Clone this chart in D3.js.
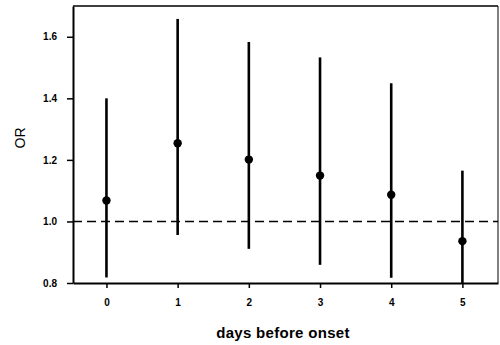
<!DOCTYPE html>
<html>
<head>
<meta charset="utf-8">
<script src="https://cdn.jsdelivr.net/npm/d3@7"></script>
<style>
  body { margin: 0; background: #fff; }
  svg { display: block; font-family: "Liberation Sans", Arial, sans-serif; }
</style>
</head>
<body>
<svg id="chart" width="500" height="345"></svg>
<script>
// days before onset and odds ratios with 95% CI
const days = [0, 1, 2, 3, 4, 5];
const orValues = [1.068, 1.254, 1.201, 1.149, 1.087, 0.936];
const ciLower = [0.818, 0.956, 0.911, 0.859, 0.817, 0.79];
const ciUpper = [1.40, 1.658, 1.583, 1.533, 1.449, 1.165];
const yTicks = [0.8, 1.0, 1.2, 1.4, 1.6];

const margin = { top: 6, right: 2, bottom: 62, left: 73 };
const width = 500, height = 345;
const innerW = width - margin.left - margin.right;
const innerH = height - margin.top - margin.bottom;

const svg = d3.select('#chart');
const g = svg.append('g')
  .attr('transform', `translate(${margin.left},${margin.top})`);

const x = d3.scaleLinear().domain([-0.47, 5.5]).range([0, innerW]);
const y = d3.scaleLinear().domain([0.8, 1.7]).range([innerH, 0]);

// frame (top and right thinner)
g.append('line').attr('x1', 0).attr('x2', innerW).attr('y1', 0).attr('y2', 0)
  .attr('stroke', '#000').attr('stroke-width', 1.3);
g.append('line').attr('x1', innerW).attr('x2', innerW).attr('y1', 0).attr('y2', innerH)
  .attr('stroke', '#000').attr('stroke-width', 1);

// axes
const yAxis = g.append('g')
  .call(d3.axisLeft(y).tickValues(yTicks).tickFormat(d3.format('.1f'))
    .tickSize(6).tickPadding(10).tickSizeOuter(0));
const xAxis = g.append('g')
  .attr('transform', `translate(0,${innerH})`)
  .call(d3.axisBottom(x).tickValues(days).tickFormat(d3.format('d'))
    .tickSize(5).tickPadding(11).tickSizeOuter(0));

[yAxis, xAxis].forEach(a => {
  a.select('.domain').attr('stroke-width', 2);
  a.selectAll('.tick line').attr('stroke-width', 1.5);
  a.selectAll('text')
    .style('font-size', '10px')
    .style('font-weight', 'bold')
    .attr('fill', '#000');
});

// reference line at OR = 1
g.append('line')
  .attr('x1', 0).attr('x2', innerW)
  .attr('y1', y(1)).attr('y2', y(1))
  .attr('stroke', '#000')
  .attr('stroke-width', 1.6)
  .attr('stroke-dasharray', '9,5');

// error bars
g.selectAll('.ci')
  .data(days)
  .enter().append('line')
  .attr('class', 'ci')
  .attr('x1', d => x(d)).attr('x2', d => x(d))
  .attr('y1', (d, i) => y(Math.max(ciLower[i], 0.8)))
  .attr('y2', (d, i) => y(ciUpper[i]))
  .attr('stroke', '#000')
  .attr('stroke-width', 2.6);

// point estimates
g.selectAll('.pt')
  .data(days)
  .enter().append('circle')
  .attr('class', 'pt')
  .attr('cx', d => x(d))
  .attr('cy', (d, i) => y(orValues[i]))
  .attr('r', 4.2)
  .attr('fill', '#000');

// axis titles
svg.append('text')
  .attr('x', 283)
  .attr('y', 338)
  .attr('text-anchor', 'middle')
  .style('font-size', '15px')
  .style('font-weight', 'bold')
  .style('letter-spacing', '0.3px')
  .text('days before onset');

svg.append('text')
  .attr('transform', 'translate(25,138) rotate(-90)')
  .attr('text-anchor', 'middle')
  .style('font-size', '14px')
  .text('OR');
</script>
</body>
</html>
